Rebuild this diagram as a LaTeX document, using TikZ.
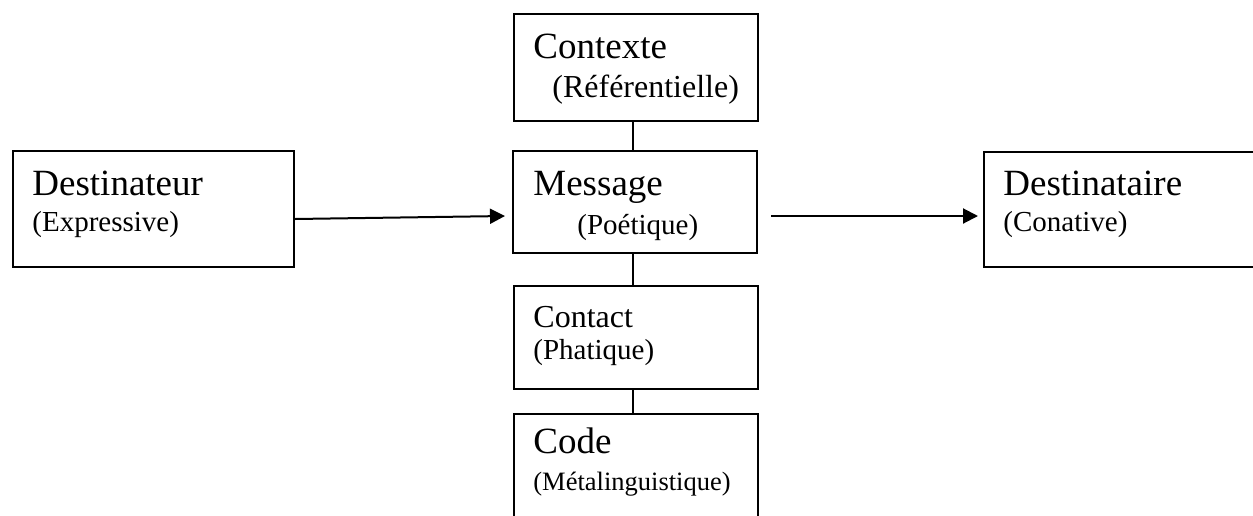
\documentclass[tikz,border=0pt]{standalone}
\usepackage{fontspec}
\setmainfont{Liberation Serif}
\usetikzlibrary{arrows.meta}
\begin{document}
\begin{tikzpicture}[x=0.5pt,y=-0.5pt,
  box/.style={draw, line width=1pt, rectangle, inner sep=0pt, anchor=north west},
  big/.style={anchor=base west, inner sep=0pt, font=\fontsize{18.5}{22}\selectfont},
  mid/.style={anchor=base west, inner sep=0pt, font=\fontsize{16}{19}\selectfont},
  small/.style={anchor=base west, inner sep=0pt, font=\fontsize{14.5}{17}\selectfont},
  tiny/.style={anchor=base west, inner sep=0pt, font=\fontsize{13.25}{16}\selectfont},
  link/.style={line width=1pt},
  arrow/.style={line width=1pt, -{Triangle[length=7.5pt,width=7.5pt]}}]
\useasboundingbox (0,0) rectangle (1253,515);
\clip (0,0) rectangle (1253,515);

% boxes
\node[box, minimum width=122pt, minimum height=53.5pt] (ctx) at (513,13) {};
\node[box, minimum width=122pt, minimum height=51pt]   (msg) at (512,150) {};
\node[box, minimum width=140.5pt, minimum height=58pt] (src) at (12,150) {};
\node[box, minimum width=200pt, minimum height=57.5pt] (dst) at (983,151) {};
\node[box, minimum width=122pt, minimum height=51.5pt] (cnt) at (513,285) {};
\node[box, minimum width=122pt, minimum height=100pt]  (cod) at (513,413) {};

% labels
\node[big]   (ctxA) at (533,58)  {Contexte};
\node[mid]   (ctxB) at (552,97)  {(Référentielle)};
\node[big]   (msgA) at (533,195) {Message};
\node[small] (msgB) at (577,234) {(Poétique)};
\node[big]   (srcA) at (32,195)  {Destinateur};
\node[small] (srcB) at (32,231)  {(Expressive)};
\node[big]   (dstA) at (1003,195) {Destinataire};
\node[small] (dstB) at (1003,231) {(Conative)};
\node[mid]   (cntA) at (533,327) {Contact};
\node[small] (cntB) at (533,359) {(Phatique)};
\node[big]   (codA) at (533,453) {Code};
\node[tiny]  (codB) at (533,490) {(Métalinguistique)};

% vertical links
\draw[link] ([xshift=-1.5pt]ctx.south) -- ([xshift=-1.5pt]ctx.south |- msg.north);
\draw[link] ([xshift=-1pt]msg.south) -- ([xshift=-1pt]msg.south |- cnt.north);
\draw[link] ([xshift=-1.5pt]cnt.south) -- ([xshift=-1.5pt]cnt.south |- cod.north);

% arrows
\draw[arrow] ([yshift=-5pt]src.east) -- ([xshift=-3.5pt,yshift=-7pt]msg.west);
\draw[arrow] ([xshift=6.5pt,yshift=-7pt]msg.east) -- ([xshift=-2.5pt,yshift=-3.25pt]dst.west);
\end{tikzpicture}
\end{document}
